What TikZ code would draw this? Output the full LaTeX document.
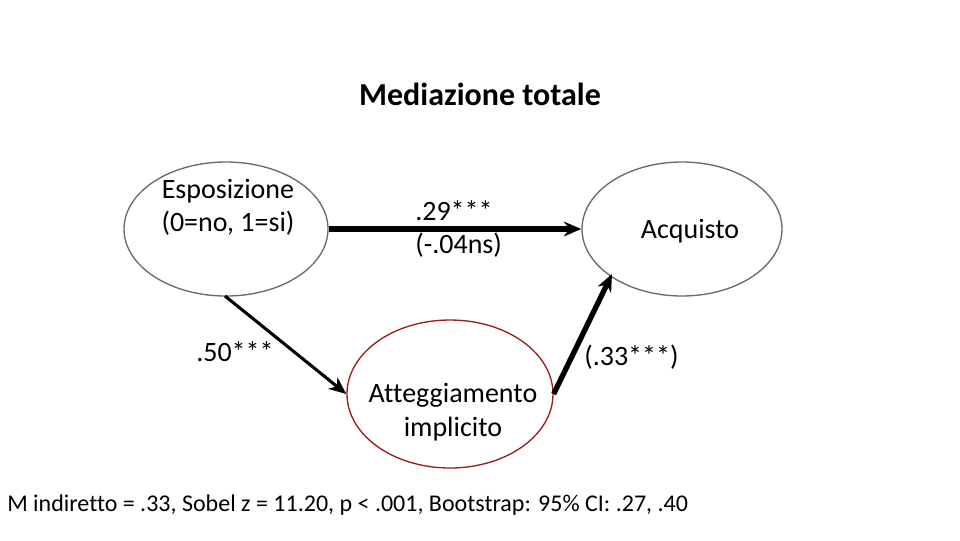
\documentclass[tikz,border=0pt]{standalone}
\usepackage{fontspec}
\setmainfont{Carlito}[Ligatures=NoCommon]
\usetikzlibrary{shapes.geometric,arrows.meta}
\definecolor{ellgray}{HTML}{5F6B78}
\definecolor{ellred}{HTML}{9A1C1C}
\tikzset{
  ell/.style={ellipse, draw=ellgray, line width=1pt, inner sep=0pt},
  lbl/.style={font=\fontsize{21}{25}\selectfont, align=center, inner sep=0pt},
  arr/.style={-{Stealth[length=13pt,width=11pt,inset=4pt]}, line width=#1},
}
\begin{document}
\begin{tikzpicture}[x=0.75pt,y=-0.75pt]
\useasboundingbox (0,0) rectangle (960,540);
\node[font=\bfseries\fontsize{24}{28}\selectfont] (title) at (480,94) {Mediazione totale};
\node[ell, minimum width=204pt*0.75, minimum height=134pt*0.75] (esp) at (226,229) {};
\node[lbl] (esptxt) at (228,207) {Esposizione\\(0=no, 1=si)};
\node[ell, minimum width=200pt*0.75, minimum height=134pt*0.75] (acq) at (682,229) {};
\node[lbl] (acqtxt) at (690,231) {Acquisto};
\node[ell, draw=ellred, minimum width=206pt*0.75, minimum height=148pt*0.75] (att) at (450,394) {};
\node[lbl] (atttxt) at (453,412) {Atteggiamento\\implicito};
\draw[arr=3.8pt] (esp.east) -- (acq.west);
\node[lbl, align=left, anchor=west] (l29) at (415,229) {.29***\\(-.04ns)};
\coordinate (espb) at (225,296);
\draw[arr=2.3pt] (espb) -- (att.west);
\node[lbl, anchor=west] (l50) at (196,352) {.50***};
\coordinate (acqbl) at (612,274);
\draw[arr=4pt] (att.east) -- (acqbl);
\node[lbl, anchor=west] (l33) at (584,357) {(.33***)};
\node[font=\fontsize{18}{21}\selectfont, anchor=west, inner sep=0pt] (foot) at (7,505) {M indiretto = .33, Sobel z = 11.20, p < .001, Bootstrap: 95\% CI: .27, .40};
\end{tikzpicture}
\end{document}
